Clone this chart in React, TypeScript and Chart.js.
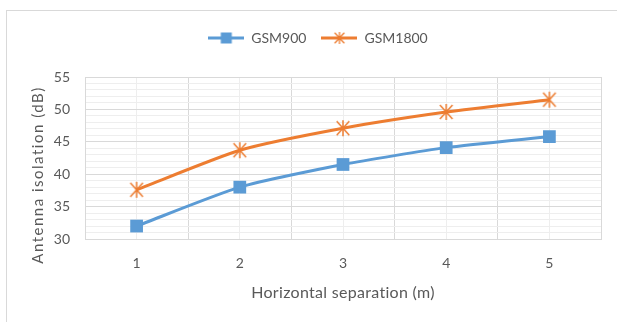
import React, { useEffect, useRef } from 'react';
import { Chart, registerables } from 'chart.js';

Chart.register(...registerables);

// Horizontal separation (m) and measured antenna isolation (dB)
const separations = ['1', '2', '3', '4', '5'];
const gsm900 = [32.0, 38.0, 41.5, 44.1, 45.8];
const gsm1800 = [37.6, 43.7, 47.1, 49.6, 51.5];
const seriesNames = ['GSM900', 'GSM1800'];
const yMin = 30;
const yMax = 55;
const yLabelStep = 5;
const xTitle = 'Horizontal separation (m)';
const yTitle = 'Antenna isolation (dB)';

const BLUE = '#5b9bd5';
const ORANGE = '#ed7d31';
const TEXT = '#595959';
const GRID_MAJOR = '#d9d9d9';
const GRID_MINOR = '#eeeeee';
const FONT = 'Lato, "Open Sans", sans-serif';

function makeCanvas(w: number, h: number) {
  const c = document.createElement('canvas');
  c.width = w;
  c.height = h;
  return c;
}

// Asterisk marker: a vertical stroke crossed by an X
function drawStar(
  ctx: CanvasRenderingContext2D,
  cx: number,
  cy: number,
  vr: number,
  dx: number,
  dy: number,
  color: string,
  lw: number
) {
  ctx.save();
  ctx.strokeStyle = color;
  ctx.lineWidth = lw;
  ctx.beginPath();
  ctx.moveTo(cx, cy - vr);
  ctx.lineTo(cx, cy + vr);
  ctx.moveTo(cx - dx, cy - dy);
  ctx.lineTo(cx + dx, cy + dy);
  ctx.moveTo(cx + dx, cy - dy);
  ctx.lineTo(cx - dx, cy + dy);
  ctx.stroke();
  ctx.restore();
}

function starPoint() {
  const c = makeCanvas(18, 18);
  drawStar(c.getContext('2d')!, 9, 9, 8, 6.3, 7, ORANGE, 1.5);
  return c;
}

function legendSymbol(color: string, marker: (ctx: CanvasRenderingContext2D, cx: number, cy: number) => void) {
  const w = 36;
  const h = 16;
  const c = makeCanvas(w, h);
  const ctx = c.getContext('2d')!;
  ctx.strokeStyle = color;
  ctx.lineWidth = 3;
  ctx.beginPath();
  ctx.moveTo(0, h / 2);
  ctx.lineTo(w, h / 2);
  ctx.stroke();
  marker(ctx, w / 2, h / 2);
  return c;
}

const framePlugin = {
  id: 'frame',
  afterInit(chart: any) {
    // extra room between the legend row and the plot
    const lg = chart.legend;
    if (lg) {
      const fit = lg.fit.bind(lg);
      lg.fit = () => {
        fit();
        lg.height += 22;
      };
    }
  },
  beforeDraw(chart: any) {
    const ctx = chart.ctx;
    ctx.save();
    ctx.strokeStyle = '#d9d9d9';
    ctx.lineWidth = 1;
    ctx.strokeRect(6.5, 10.5, chart.width + 20, chart.height + 20);
    ctx.restore();
  },
  afterDraw(chart: any) {
    const ctx = chart.ctx as CanvasRenderingContext2D;
    const a = chart.chartArea;
    ctx.save();
    ctx.fillStyle = TEXT;
    ctx.textAlign = 'center';
    ctx.textBaseline = 'middle';
    ctx.font = `16px ${FONT}`;
    (ctx as any).letterSpacing = '0.3px';
    ctx.fillText(xTitle, (a.left + a.right) / 2, a.bottom + 54);
    ctx.font = `15px ${FONT}`;
    ctx.translate(a.left - 47, (a.top + a.bottom) / 2 + 17);
    ctx.rotate(-Math.PI / 2);
    (ctx as any).letterSpacing = '1.5px';
    ctx.fillText(yTitle, 0, 0);
    ctx.restore();
  },
};

export default function App() {
  const ref = useRef<HTMLCanvasElement>(null);

  useEffect(() => {
    const canvas = ref.current;
    if (!canvas) return;

    const star = starPoint();
    const legendMarks = [
      legendSymbol(BLUE, (ctx, cx, cy) => {
        ctx.fillStyle = BLUE;
        ctx.fillRect(cx - 5.5, cy - 5.5, 11, 11);
      }),
      legendSymbol(ORANGE, (ctx, cx, cy) => drawStar(ctx, cx, cy, 6, 4.8, 5.3, ORANGE, 1.3)),
    ];

    const chart = new Chart(canvas, {
      type: 'line',
      data: {
        labels: separations,
        datasets: [
          {
            label: seriesNames[0],
            data: gsm900,
            borderColor: BLUE,
            backgroundColor: BLUE,
            borderWidth: 3,
            tension: 0.2,
            pointStyle: 'rect',
            pointRadius: 9,
            pointBorderWidth: 0,
            pointBackgroundColor: BLUE,
            pointBorderColor: BLUE,
          },
          {
            label: seriesNames[1],
            data: gsm1800,
            borderColor: ORANGE,
            backgroundColor: ORANGE,
            borderWidth: 3,
            tension: 0.2,
            pointStyle: star,
            pointRadius: 9,
          },
        ],
      },
      options: {
        animation: false,
        responsive: true,
        maintainAspectRatio: false,
        layout: { padding: { left: 19, right: 0, top: 16, bottom: 0 } },
        plugins: {
          tooltip: { enabled: false },
          legend: {
            position: 'top',
            labels: {
              usePointStyle: true,
              pointStyleWidth: 36,
              padding: 15,
              color: TEXT,
              font: { family: FONT, size: 14 },
              generateLabels: (ch: any) => {
                const base = Chart.defaults.plugins.legend.labels.generateLabels(ch);
                return base.map((item: any, i: number) => ({
                  ...item,
                  pointStyle: legendMarks[i],
                  fontColor: TEXT,
                }));
              },
            },
          },
        },
        scales: {
          xMinor: {
            type: 'category',
            position: 'bottom',
            labels: separations,
            offset: true,
            z: -1,
            grid: { offset: false, color: GRID_MINOR, drawTicks: false },
            border: { display: false },
            ticks: { display: false },
            afterFit: (s: any) => {
              s.height = 0;
            },
          },
          x: {
            type: 'category',
            position: 'bottom',
            offset: true,
            grid: { offset: true, color: GRID_MAJOR, drawTicks: false },
            border: { display: true, color: GRID_MAJOR },
            ticks: { color: TEXT, font: { family: FONT, size: 14 }, padding: 16 },
            afterFit: (s: any) => {
              s.height = 83;
            },
          },
          y: {
            type: 'linear',
            position: 'left',
            min: yMin,
            max: yMax,
            grid: {
              drawTicks: false,
              color: (c: any) =>
                Math.round(c.tick.value) % yLabelStep === 0 ? GRID_MAJOR : GRID_MINOR,
            },
            border: { display: true, color: GRID_MAJOR },
            ticks: {
              stepSize: 1,
              autoSkip: false,
              padding: 15,
              color: TEXT,
              font: { family: FONT, size: 14 },
              callback: (v: any) => (Math.round(v) % yLabelStep === 0 ? String(v) : ''),
            },
            afterFit: (s: any) => {
              s.width = 66;
            },
          },
          yRight: {
            type: 'linear',
            position: 'right',
            display: true,
            grid: { display: false },
            border: { display: false },
            ticks: { display: false },
            afterFit: (s: any) => {
              s.width = 16;
            },
          },
        },
      } as any,
      plugins: [framePlugin],
    });

    return () => chart.destroy();
  }, []);

  return (
    <div style={{ position: 'absolute', left: 0, top: 0, width: 617, height: 322 }}>
      <canvas ref={ref} />
    </div>
  );
}
